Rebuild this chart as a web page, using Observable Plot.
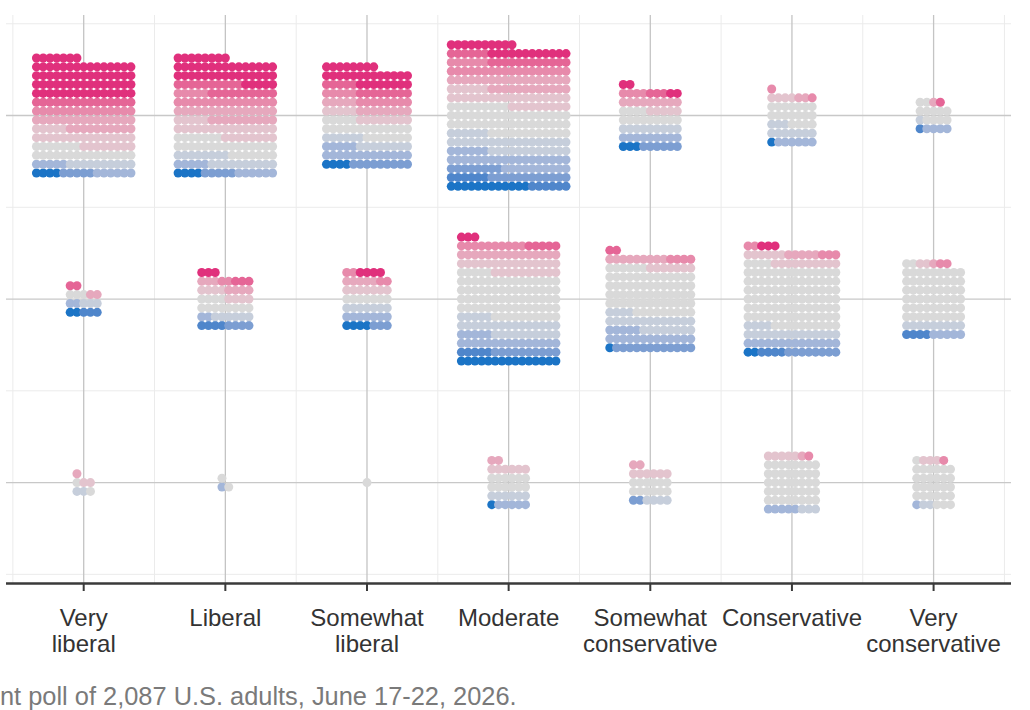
<!DOCTYPE html>
<html>
<head>
<meta charset="utf-8">
<script src="https://cdn.jsdelivr.net/npm/d3@7"></script>
<script src="https://cdn.jsdelivr.net/npm/@observablehq/plot@0.6"></script>
<style>
  html, body { margin: 0; padding: 0; background: #fff; }
  #wrap { position: relative; width: 1030px; height: 710px; overflow: hidden; }
  #caption { position: absolute; left: 0px; top: 684px; font: 25.4px/25px "Liberation Sans", Arial, sans-serif; color: #7a7a7a; white-space: nowrap; }
</style>
</head>
<body>
<div id="wrap">
  <div id="chart"></div>
  <div id="caption">nt poll of 2,087 U.S. adults, June 17-22, 2026.</div>
</div>
<script>
// Ideology categories (x axis)
const categories = ["Very liberal", "Liberal", "Somewhat liberal", "Moderate", "Somewhat conservative", "Conservative", "Very conservative"];
const tickLabels = ["Very\nliberal", "Liberal", "Somewhat\nliberal", "Moderate", "Somewhat\nconservative", "Conservative", "Very\nconservative"];
// Three response groups (rows, top to bottom)
const responseRows = ["Top", "Middle", "Bottom"];
// Colour levels (blue = -5 ... grey = 0 ... pink = +5)
const levels = [-5, -4, -3, -2, -1, 0, 1, 2, 3, 4, 5];
const levelColors = ["#1b74c6", "#4f86cb", "#7c9ed2", "#a3b6d9", "#c6cedb", "#d9d9d9", "#e3c4ce", "#e6a8bd", "#e78aab", "#e56596", "#e0307c"];
// Respondent counts per colour level (-5..+5) for each category, one array per response row
const topRowCounts = [
  [4, 0, 5, 11, 10, 22, 28, 25, 15, 15, 67],
  [4, 0, 5, 11, 18, 29, 28, 25, 20, 20, 43],
  [4, 0, 9, 18, 14, 25, 13, 13, 13, 13, 29],
  [12, 12, 20, 34, 36, 57, 33, 30, 24, 18, 22],
  [3, 0, 6, 9, 9, 13, 5, 9, 4, 3, 4],
  [1, 0, 0, 6, 10, 18, 4, 2, 2, 0, 0],
  [0, 1, 0, 4, 1, 11, 0, 1, 0, 1, 0]
];
const middleRowCounts = [
  [2, 3, 0, 2, 3, 3, 0, 2, 0, 2, 0],
  [0, 4, 4, 2, 6, 12, 8, 7, 2, 3, 3],
  [4, 0, 3, 7, 7, 7, 7, 5, 4, 0, 4],
  [15, 5, 10, 20, 30, 75, 25, 15, 10, 5, 3],
  [1, 0, 12, 18, 25, 67, 7, 9, 4, 2, 0],
  [2, 4, 8, 14, 18, 98, 16, 5, 5, 0, 3],
  [0, 4, 0, 5, 9, 56, 2, 1, 2, 0, 0]
];
const bottomRowCounts = [
  [0, 0, 0, 0, 2, 2, 2, 1, 0, 0, 0],
  [0, 0, 0, 1, 0, 2, 0, 0, 0, 0, 0],
  [0, 0, 0, 0, 0, 1, 0, 0, 0, 0, 0],
  [1, 0, 0, 5, 6, 12, 6, 2, 0, 0, 0],
  [0, 0, 2, 0, 4, 12, 6, 2, 0, 0, 0],
  [0, 0, 0, 5, 3, 40, 5, 1, 1, 0, 0],
  [0, 0, 0, 1, 2, 28, 3, 0, 1, 0, 0]
];

const rowCounts = [topRowCounts, middleRowCounts, bottomRowCounts];
const catIdx = categories.map((d, i) => i);
const rowIdx = responseRows.map((d, i) => i);

// Unit-chart layout (spacing expressed in scale units)
const stepX = 6.75 / 141.65;
const stepY = 8.85 / 183.5;
const dots = [];
rowCounts.forEach((table, r) => {
  table.forEach((counts, c) => {
    const values = [];
    counts.forEach((k, li) => { for (let j = 0; j < k; j++) values.push(levels[li]); });
    const n = values.length;
    if (!n) return;
    const cols = Math.ceil(Math.sqrt(n));
    const rows = Math.ceil(n / cols);
    values.forEach((v, i) => {
      const col = i % cols;
      const rb = Math.floor(i / cols);
      dots.push({
        category: categories[c],
        response: responseRows[r],
        level: v,
        x: c + (col - (cols - 1) / 2) * stepX,
        y: r + ((rows - 1) / 2 - rb) * stepY
      });
    });
  });
});

const minorX = d3.range(-0.5, 7, 1);
const minorY = d3.range(-0.5, 3, 1);

const chart = Plot.plot({
  width: 1030,
  height: 665,
  marginLeft: 6,
  marginRight: 19,
  marginTop: 15,
  marginBottom: 82,
  style: { fontFamily: "'Liberation Sans', Arial, sans-serif", background: "#fff" },
  x: { type: "linear", domain: [-0.545, 6.55] },
  y: { type: "linear", domain: [-0.545, 2.55], reverse: true, axis: null },
  color: { type: "ordinal", domain: levels, range: levelColors },
  marks: [
    Plot.ruleX(minorX, { stroke: "#ebebeb", strokeWidth: 1 }),
    Plot.ruleY(minorY, { stroke: "#ebebeb", strokeWidth: 1 }),
    Plot.ruleX(catIdx, { stroke: "#c4c4c4", strokeWidth: 1.3 }),
    Plot.ruleY(rowIdx, { stroke: "#c8c8c8", strokeWidth: 1.3 }),
    Plot.dot(dots, { x: "x", y: "y", fill: "level", r: 4.5 }),
    Plot.ruleY([2.55], { stroke: "#3a3a3a", strokeWidth: 2.5 }),
    Plot.axisX(catIdx, {
      tickFormat: i => tickLabels[i],
      tickSize: 8,
      tickPadding: 17,
      fontSize: 24,
      lineHeight: 1.05,
      stroke: "#3a3a3a",
      strokeWidth: 2,
      fill: "#333",
      label: null
    })
  ]
});
document.getElementById("chart").appendChild(chart);
</script>
</body>
</html>
